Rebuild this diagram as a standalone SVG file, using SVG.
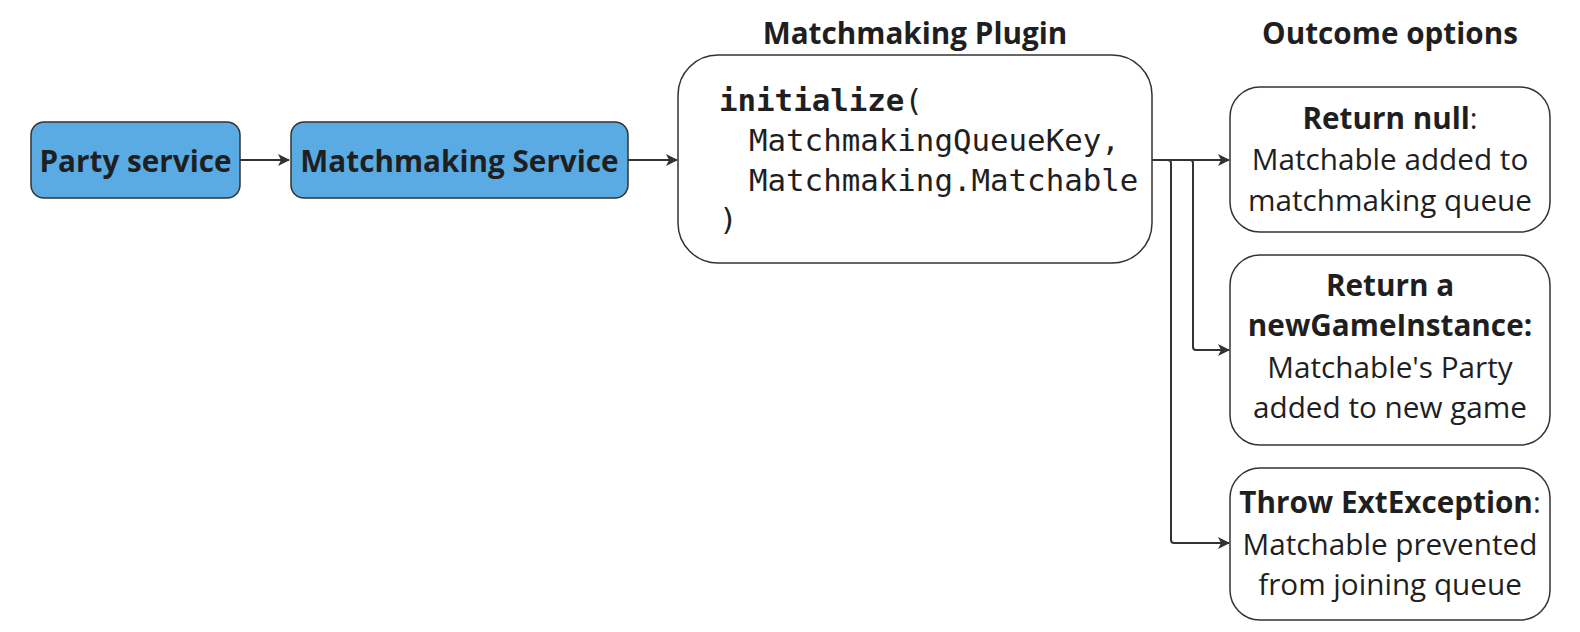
<svg xmlns="http://www.w3.org/2000/svg" width="1580" height="632" viewBox="0 0 1580 632">
<defs>
<marker id="ah" markerWidth="14" markerHeight="14" refX="11" refY="7" orient="auto" markerUnits="userSpaceOnUse">
<path d="M0,1 L12,7 L0,13 L3,7 Z" fill="#333"/>
</marker>
<style>
.blue{fill:#5aabe3;stroke:#333;stroke-width:1.5}
.white{fill:#fff;stroke:#333;stroke-width:1.5}
.t{font-family:"Open Sans","Noto Sans",sans-serif;fill:#1f1f1f;text-anchor:middle}
.n{font-size:29.7px}
.h{font-size:29.7px;font-weight:bold}
.m{font-family:"DejaVu Sans Mono","Liberation Mono",monospace;font-size:30.8px;fill:#1f1f1f}
.c{fill:none;stroke:#333;stroke-width:2}
</style>
</defs>
<rect width="1580" height="632" fill="#fff"/>
<g id="title-plugin"><text class="t h" x="915" y="44">Matchmaking Plugin</text></g>
<g id="title-outcome"><text class="t h" x="1390" y="44">Outcome options</text></g>
<g id="party-service">
<rect class="blue" x="31" y="122" width="209" height="76" rx="13"/>
<text class="t h" x="135.5" y="172">Party service</text>
</g>
<g id="matchmaking-service">
<rect class="blue" x="291" y="122" width="337" height="76" rx="13"/>
<text class="t h" x="459.5" y="172">Matchmaking Service</text>
</g>
<g id="matchmaking-plugin">
<rect class="white" x="678" y="55" width="474" height="208" rx="40"/>
<text class="m" x="719" y="111" font-weight="bold">initialize<tspan font-weight="normal">(</tspan></text>
<text class="m" x="749" y="151">MatchmakingQueueKey,</text>
<text class="m" x="749" y="191">Matchmaking.Matchable</text>
<text class="m" x="719" y="230">)</text>
</g>
<g id="return-null">
<rect class="white" x="1230" y="87" width="320" height="145" rx="30"/>
<text class="t n" x="1390" y="129"><tspan font-weight="bold">Return null</tspan>:</text>
<text class="t n" x="1390" y="170">Matchable added to</text>
<text class="t n" x="1390" y="211">matchmaking queue</text>
</g>
<g id="return-new-game">
<rect class="white" x="1230" y="255" width="320" height="190" rx="30"/>
<text class="t h" x="1390" y="296">Return a</text>
<text class="t h" x="1390" y="336">newGameInstance:</text>
<text class="t n" x="1390" y="378">Matchable's Party</text>
<text class="t n" x="1390" y="418">added to new game</text>
</g>
<g id="throw-exception">
<rect class="white" x="1230" y="468" width="320" height="152" rx="30"/>
<text class="t n" x="1390" y="513"><tspan font-weight="bold">Throw ExtException</tspan>:</text>
<text class="t n" x="1390" y="555">Matchable prevented</text>
<text class="t n" x="1390" y="595">from joining queue</text>
</g>
<g id="connectors">
<path class="c" d="M240,160 H289" marker-end="url(#ah)"/>
<path class="c" d="M628,160 H677" marker-end="url(#ah)"/>
<path class="c" d="M1152,160 H1229" marker-end="url(#ah)"/>
<path class="c" d="M1152,160 H1190 Q1193,160 1193,163 V347 Q1193,350 1196,350 H1229" marker-end="url(#ah)"/>
<path class="c" d="M1152,160 H1167 Q1171,160 1171,163 V540 Q1171,543 1174,543 H1229" marker-end="url(#ah)"/>
</g>
</svg>
